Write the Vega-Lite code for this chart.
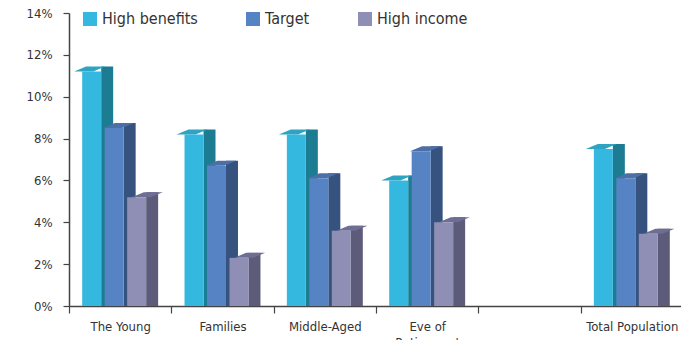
{
  "$schema": "https://vega.github.io/schema/vega-lite/v6.json",
  "width": 614,
  "height": 293,
  "autosize": {"type": "none"},
  "padding": {"left": 69, "top": 13, "right": 0, "bottom": 34},
  "background": "white",
  "config": {
    "view": {"stroke": null},
    "font": "DejaVu Sans Condensed, sans-serif"
  },
  "data": {
    "values": [
      {"group": "The Young", "series": "High benefits", "value": 11.2},
      {"group": "The Young", "series": "Target", "value": 8.5},
      {"group": "The Young", "series": "High income", "value": 5.2},
      {"group": "Families", "series": "High benefits", "value": 8.2},
      {"group": "Families", "series": "Target", "value": 6.7},
      {"group": "Families", "series": "High income", "value": 2.3},
      {"group": "Middle-Aged", "series": "High benefits", "value": 8.2},
      {"group": "Middle-Aged", "series": "Target", "value": 6.1},
      {"group": "Middle-Aged", "series": "High income", "value": 3.6},
      {"group": "Eve of Retirement", "series": "High benefits", "value": 6.0},
      {"group": "Eve of Retirement", "series": "Target", "value": 7.4},
      {"group": "Eve of Retirement", "series": "High income", "value": 4.0},
      {"group": "Total Population", "series": "High benefits", "value": 7.5},
      {"group": "Total Population", "series": "Target", "value": 6.1},
      {"group": "Total Population", "series": "High income", "value": 3.45}
    ]
  },
  "encoding": {
    "x": {
      "field": "group",
      "type": "nominal",
      "sort": null,
      "scale": {
        "domain": ["The Young", "Families", "Middle-Aged", "Eve of Retirement", " ", "Total Population"],
        "paddingInner": 0,
        "paddingOuter": 0
      },
      "axis": {
        "title": null,
        "labelAngle": 0,
        "tickBand": "extent",
        "tickSize": 7,
        "tickColor": "#444",
        "tickWidth": 1.2,
        "domainColor": "#444",
        "domainWidth": 1.5,
        "labelFontSize": 13,
        "labelColor": "#333",
        "labelPadding": 7,
        "labelLineHeight": 16,
        "labelExpr": "datum.value == 'Eve of Retirement' ? ['Eve of', 'Retirement'] : datum.value"
      }
    },
    "y": {
      "field": "value",
      "type": "quantitative",
      "stack": null,
      "scale": {"domain": [0, 14], "nice": false},
      "axis": {
        "title": null,
        "values": [0, 2, 4, 6, 8, 10, 12, 14],
        "labelExpr": "datum.value + '%'",
        "grid": false,
        "tickSize": 6,
        "tickColor": "#444",
        "tickWidth": 1.2,
        "domainColor": "#444",
        "domainWidth": 1.5,
        "labelFontSize": 13,
        "labelColor": "#333",
        "labelPadding": 11
      }
    }
  },
  "layer": [
    {
      "mark": {"type": "bar", "width": 12, "yOffset": -5},
      "encoding": {
        "xOffset": {
          "field": "series",
          "type": "nominal",
          "sort": null,
          "scale": {
            "domain": ["High benefits", "Target", "High income"],
            "paddingInner": 0,
            "paddingOuter": 0.776,
            "align": 0.772
          }
        },
        "color": {
          "field": "series",
          "type": "nominal",
          "scale": {"domain": ["High benefits", "Target", "High income"], "range": ["#1b7c92", "#36537f", "#5c5b79"]},
          "legend": null
        }
      }
    },
    {
      "mark": {
        "type": "point",
        "shape": "M-9.5,0L9.5,0L21.5,-5L2.5,-5Z",
        "size": 4,
        "filled": true,
        "opacity": 1,
        "strokeWidth": 0
      },
      "encoding": {
        "xOffset": {
          "field": "series",
          "type": "nominal",
          "sort": null,
          "scale": {
            "domain": ["High benefits", "Target", "High income"],
            "paddingInner": 0,
            "paddingOuter": 0.776,
            "align": 0.328
          }
        },
        "color": {
          "field": "series",
          "type": "nominal",
          "scale": {"domain": ["High benefits", "Target", "High income"], "range": ["#2ea3c2", "#4b6fa6", "#6e6d93"]},
          "legend": null
        }
      }
    },
    {
      "mark": {"type": "bar", "width": 19},
      "encoding": {
        "xOffset": {
          "field": "series",
          "type": "nominal",
          "sort": null,
          "scale": {
            "domain": ["High benefits", "Target", "High income"],
            "paddingInner": 0,
            "paddingOuter": 0.776,
            "align": 0.328
          }
        },
        "color": {
          "field": "series",
          "type": "nominal",
          "scale": {"domain": ["High benefits", "Target", "High income"], "range": ["#35b8e0", "#5583c3", "#8f8eb4"]},
          "legend": {
            "title": null,
            "orient": "none",
            "legendX": 13,
            "legendY": -2,
            "direction": "horizontal",
            "padding": 0,
            "symbolType": "square",
            "symbolSize": 196,
            "symbolStrokeWidth": 0,
            "labelFontSize": 16,
            "labelColor": "#333",
            "labelOffset": 4,
            "columnPadding": 47
          }
        }
      }
    }
  ],
  "resolve": {"scale": {"color": "independent", "xOffset": "independent"}}
}
